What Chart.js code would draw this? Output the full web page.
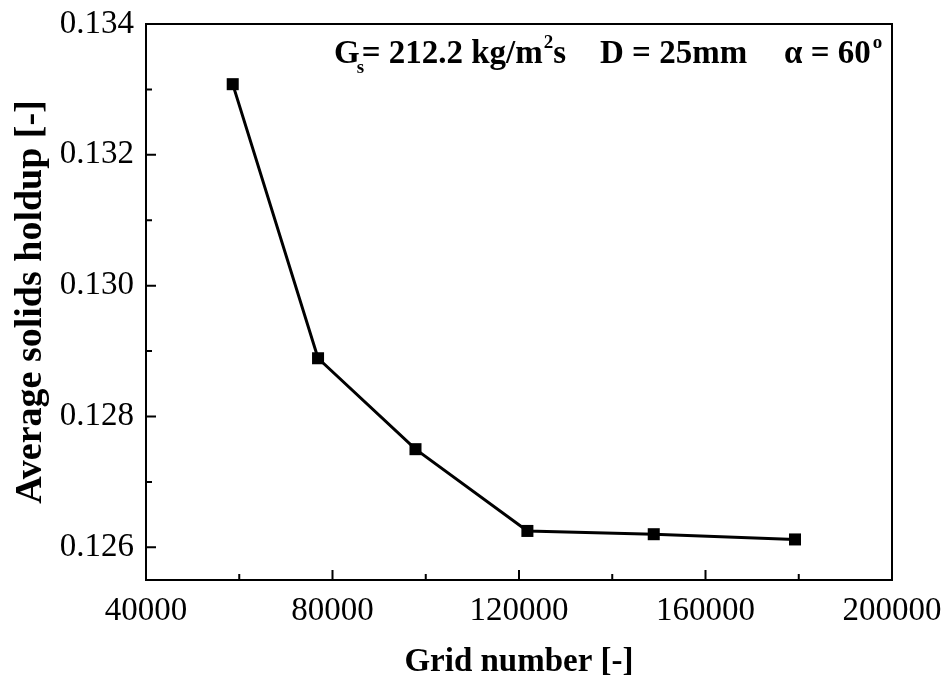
<!DOCTYPE html>
<html>
<head>
<meta charset="utf-8">
<script src="https://cdn.jsdelivr.net/npm/chart.js@4/dist/chart.umd.min.js"></script>
<style>
  html, body { margin: 0; padding: 0; background: #fff; }
  #wrap { width: 947px; height: 682px; }
</style>
</head>
<body>
<div id="wrap"><canvas id="myChart" width="947" height="682"></canvas></div>
<script>
// grid independence data
var gridNumber = [58600, 76900, 97800, 121800, 148900, 179200];
var holdup = [0.13308, 0.12889, 0.1275, 0.12625, 0.1262, 0.12612];
var xTicks = [40000, 80000, 120000, 160000, 200000];
var yTicks = [0.126, 0.128, 0.130, 0.132, 0.134];

var serif = "'Liberation Serif', 'Times New Roman', serif";

// frame, inward ticks and the condition label
var framePlugin = {
  id: "frame",
  afterDraw: function (chart) {
    var c = chart.ctx;
    var a = chart.chartArea;
    var xs = chart.scales.x;
    var ys = chart.scales.y;
    c.save();
    c.strokeStyle = "#000";
    c.lineWidth = 2;
    c.strokeRect(a.left, a.top, a.right - a.left, a.bottom - a.top);

    c.beginPath();
    xTicks.forEach(function (v, i) {
      var px = xs.getPixelForValue(v);
      c.moveTo(px, a.bottom);
      c.lineTo(px, a.bottom - 10);
      if (i < xTicks.length - 1) {
        var pm = xs.getPixelForValue((v + xTicks[i + 1]) / 2);
        c.moveTo(pm, a.bottom);
        c.lineTo(pm, a.bottom - 6);
      }
    });
    yTicks.forEach(function (v, i) {
      var py = ys.getPixelForValue(v);
      c.moveTo(a.left, py);
      c.lineTo(a.left + 10, py);
      if (i < yTicks.length - 1) {
        var pm = ys.getPixelForValue((v + yTicks[i + 1]) / 2);
        c.moveTo(a.left, pm);
        c.lineTo(a.left + 6, pm);
      }
    });
    c.stroke();

    // G_s = 212.2 kg/m^2s   D = 25mm   α = 60°
    var base = 63;
    var big = "bold 33px " + serif;
    var small = "bold 19px " + serif;
    c.fillStyle = "#000";
    c.textBaseline = "alphabetic";
    c.textAlign = "left";
    c.font = big;
    c.fillText("G", 334, base);
    var x = 334 + c.measureText("G").width;
    c.font = small;
    c.fillText("s", x - 3, base + 10);
    c.font = big;
    x = x + 2;
    c.fillText("= 212.2 kg/m", x, base);
    x += c.measureText("= 212.2 kg/m").width;
    c.font = small;
    c.fillText("2", x + 1, base - 15);
    x += c.measureText("2").width + 1;
    c.font = big;
    c.fillText("s", x, base);
    c.fillText("D = 25mm", 600, base);
    c.fillText("\u03b1 = 60", 784, base);
    x = 784 + c.measureText("\u03b1 = 60").width;
    c.font = small;
    c.fillText("o", x + 2, base - 15);
    c.restore();
  }
};

var ctx = document.getElementById("myChart").getContext("2d");
var myChart = new Chart(ctx, {
  type: "scatter",
  data: {
    datasets: [
      {
        data: gridNumber.map(function (g, i) { return { x: g, y: holdup[i] }; }),
        showLine: true,
        borderColor: "#000",
        backgroundColor: "#000",
        borderWidth: 3,
        pointStyle: "rect",
        pointRadius: 8.5,
        pointHoverRadius: 8.5,
        pointBorderWidth: 0,
      },
    ],
  },
  options: {
    responsive: false,
    animation: false,
    layout: { padding: { top: 24, right: 55, left: 8, bottom: 0 } },
    plugins: { legend: { display: false }, tooltip: { enabled: false } },
    scales: {
      x: {
        type: "linear",
        min: 40000,
        max: 200000,
        afterBuildTicks: function (s) {
          s.ticks = xTicks.map(function (v) { return { value: v }; });
        },
        afterFit: function (s) {
          s.height = 102;
          s.paddingLeft = 0;
          s.paddingRight = 0;
        },
        grid: { display: false, drawTicks: false },
        border: { display: false },
        ticks: {
          color: "#000",
          padding: 12,
          maxRotation: 0,
          font: { family: serif, size: 33 },
          callback: function (v) { return String(v); },
        },
        title: {
          display: true,
          text: "Grid number [-]",
          color: "#000",
          padding: { top: 10, bottom: 0 },
          font: { family: serif, size: 33, weight: "bold" },
        },
      },
      y: {
        min: 0.1255,
        max: 0.134,
        afterBuildTicks: function (s) {
          s.ticks = yTicks.map(function (v) { return { value: v }; });
        },
        afterFit: function (s) {
          s.width = 138;
          s.paddingTop = 0;
          s.paddingBottom = 0;
        },
        grid: { display: false, drawTicks: false },
        border: { display: false },
        ticks: {
          color: "#000",
          padding: 12,
          font: { family: serif, size: 33 },
          callback: function (v) { return v.toFixed(3); },
        },
        title: {
          display: true,
          text: "Average solids holdup [-]",
          color: "#000",
          padding: { top: 0, bottom: 0 },
          font: { family: serif, size: 38, weight: "bold" },
        },
      },
    },
  },
  plugins: [framePlugin],
});
</script>
</body>
</html>
